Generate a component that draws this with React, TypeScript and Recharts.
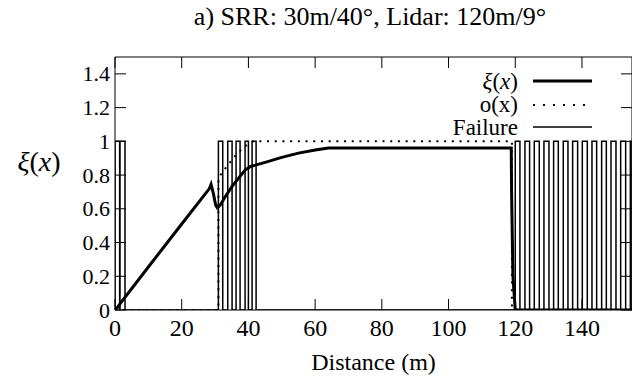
import React from "react";
import { ComposedChart, Line, XAxis, YAxis, Legend, ReferenceLine } from "recharts";

const serif = "'Times New Roman', Times, 'Liberation Serif', Tinos, 'DejaVu Serif', 'Noto Serif', serif";

const CHART_W = 632;
const CHART_H = 386;
const PLOT_TOP = 57;
const PLOT_LEFT = 115;
const TICK_LEN = 11;

const xTicks = [0, 20, 40, 60, 80, 100, 120, 140];
const yTicks = [0, 0.2, 0.4, 0.6, 0.8, 1, 1.2, 1.4];

// ξ(x): distance (m) / value
const xiDistance = [0, 0.5, 2, 10, 20, 28.3, 28.8, 29.5, 30.2, 30.7, 31.5, 33, 35, 37, 39, 40.5, 45, 50, 55, 60, 64, 118.8, 118.9, 119.3, 120, 155];
const xiValue = [0, 0.01, 0.05, 0.255, 0.51, 0.72, 0.745, 0.69, 0.62, 0.605, 0.62, 0.67, 0.73, 0.78, 0.83, 0.85, 0.875, 0.905, 0.93, 0.948, 0.96, 0.96, 0.7, 0.2, 0, 0];

// o(x)
const oDistance = [0, 31.0, 31.0, 31.9, 33.9, 36.3, 38.9, 41.4, 119.0, 119.0, 155];
const oValue = [0, 0, 0.78, 0.81, 0.86, 0.92, 0.97, 1, 1, 0, 0];

// failure = 1 between start and end
const failureStart = [0, 1.5, 31.0, 33.8, 36.3, 39.0, 41.1, 120.0, 122.9, 125.7, 128.6, 131.5, 134.4, 137.2, 140.1, 143.0, 145.9, 148.7, 151.6, 154.5];
const failureEnd = [1.4, 3.0, 32.3, 35.1, 37.5, 40.0, 42.3, 121.4, 124.3, 127.2, 130.1, 132.9, 135.8, 138.7, 141.6, 144.4, 147.3, 150.2, 153.1, 155];

const xiData = xiDistance.map((d, i) => ({ d, v: xiValue[i] }));
const oData = oDistance.map((d, i) => ({ d, v: oValue[i] }));
const failureData: { d: number; v: number }[] = [];
failureStart.forEach((s, i) => {
  failureData.push({ d: s, v: 0 }, { d: s, v: 1 }, { d: failureEnd[i], v: 1 }, { d: failureEnd[i], v: 0 });
});

const XiText = () => (
  <>
    <tspan fontStyle="italic">ξ</tspan>
    <tspan>(</tspan>
    <tspan fontStyle="italic">x</tspan>
    <tspan>)</tspan>
  </>
);

// bottom tick: label below, tick marks inward at bottom and top
const XTick = (props: any) => {
  const { x, y, payload } = props;
  return (
    <g>
      <line x1={x} x2={x} y1={y - TICK_LEN} y2={y} stroke="#000" />
      <line x1={x} x2={x} y1={PLOT_TOP} y2={PLOT_TOP + TICK_LEN} stroke="#000" />
      <text x={x} y={y + 9} textAnchor="middle" dominantBaseline="hanging" fill="#000" fontSize={24} style={{ fontFamily: serif }}>
        {payload.value}
      </text>
    </g>
  );
};

// left tick: label at left, tick marks inward at left and right
const YTick = (props: any) => {
  const { x, y, payload } = props;
  return (
    <g>
      <line x1={x} x2={x + TICK_LEN} y1={y} y2={y} stroke="#000" />
      <line x1={CHART_W - TICK_LEN} x2={CHART_W} y1={y} y2={y} stroke="#000" />
      <text x={x - 5} y={y} textAnchor="end" dominantBaseline="central" fill="#000" fontSize={22} style={{ fontFamily: serif }}>
        {payload.value}
      </text>
    </g>
  );
};

const renderLegend = () => (
  <svg width={200} height={75} style={{ fontFamily: serif, fontSize: 23 }}>
    <text x={96} y={15} textAnchor="end" dominantBaseline="central" fill="#000">
      <XiText />
    </text>
    <line x1={111} x2={170} y1={15} y2={15} stroke="#000" strokeWidth={3} />
    <text x={96} y={38} textAnchor="end" dominantBaseline="central" fill="#000">o(x)</text>
    <line x1={111} x2={170} y1={39} y2={39} stroke="#000" strokeWidth={2} strokeDasharray="2 8" />
    <text x={96} y={61} textAnchor="end" dominantBaseline="central" fill="#000">Failure</text>
    <line x1={111} x2={170} y1={61} y2={61} stroke="#000" strokeWidth={1.5} />
  </svg>
);

const YLabel = (props: any) => {
  const vb = props.viewBox;
  return (
    <text x={vb.x + 39} y={vb.y + vb.height * 0.41} textAnchor="middle" dominantBaseline="central" fill="#000" fontSize={28} style={{ fontFamily: serif }}>
      <XiText />
    </text>
  );
};

export default function App() {
  return (
    <div style={{ position: "absolute", left: 0, top: 0, width: CHART_W, height: CHART_H, overflow: "hidden", background: "#fff", fontFamily: serif }}>
      <div style={{ position: "absolute", left: 108, width: 524, top: 2, textAlign: "center", fontFamily: serif, fontSize: 26, color: "#000" }}>
        a) SRR: 30m/40°, Lidar: 120m/9°
      </div>
      <ComposedChart width={CHART_W} height={CHART_H} margin={{ top: PLOT_TOP, right: 0, bottom: 0, left: 0 }} style={{ fontFamily: serif }}>
        <XAxis
          dataKey="d"
          type="number"
          domain={[0, 155]}
          allowDataOverflow
          ticks={xTicks}
          interval={0}
          height={76}
          tickSize={0}
          tickMargin={0}
          tick={<XTick />}
          tickLine={false}
          axisLine={{ stroke: "#000" }}
          label={{ value: "Distance (m)", position: "insideBottom", offset: 16, fill: "#000", fontSize: 24, style: { fontFamily: serif } }}
        />
        <YAxis
          type="number"
          domain={[0, 1.5]}
          allowDataOverflow
          ticks={yTicks}
          interval={0}
          width={PLOT_LEFT}
          tickSize={0}
          tickMargin={0}
          tick={<YTick />}
          tickLine={false}
          axisLine={{ stroke: "#000" }}
          label={<YLabel />}
        />
        <ReferenceLine y={1.5} stroke="#000" />
        <ReferenceLine x={155} stroke="#000" />
        <Legend layout="vertical" align="center" verticalAlign="middle" content={renderLegend} wrapperStyle={{ top: 66, left: 422, width: 200, height: 75 }} />
        <Line data={failureData} dataKey="v" name="Failure" type="linear" stroke="#000" strokeWidth={1.5} dot={false} isAnimationActive={false} />
        <Line data={oData} dataKey="v" name="o(x)" type="linear" stroke="#000" strokeWidth={2} strokeDasharray="2 5.7" dot={false} isAnimationActive={false} />
        <Line data={xiData} dataKey="v" name="ξ(x)" type="linear" stroke="#000" strokeWidth={3} dot={false} isAnimationActive={false} />
      </ComposedChart>
    </div>
  );
}
